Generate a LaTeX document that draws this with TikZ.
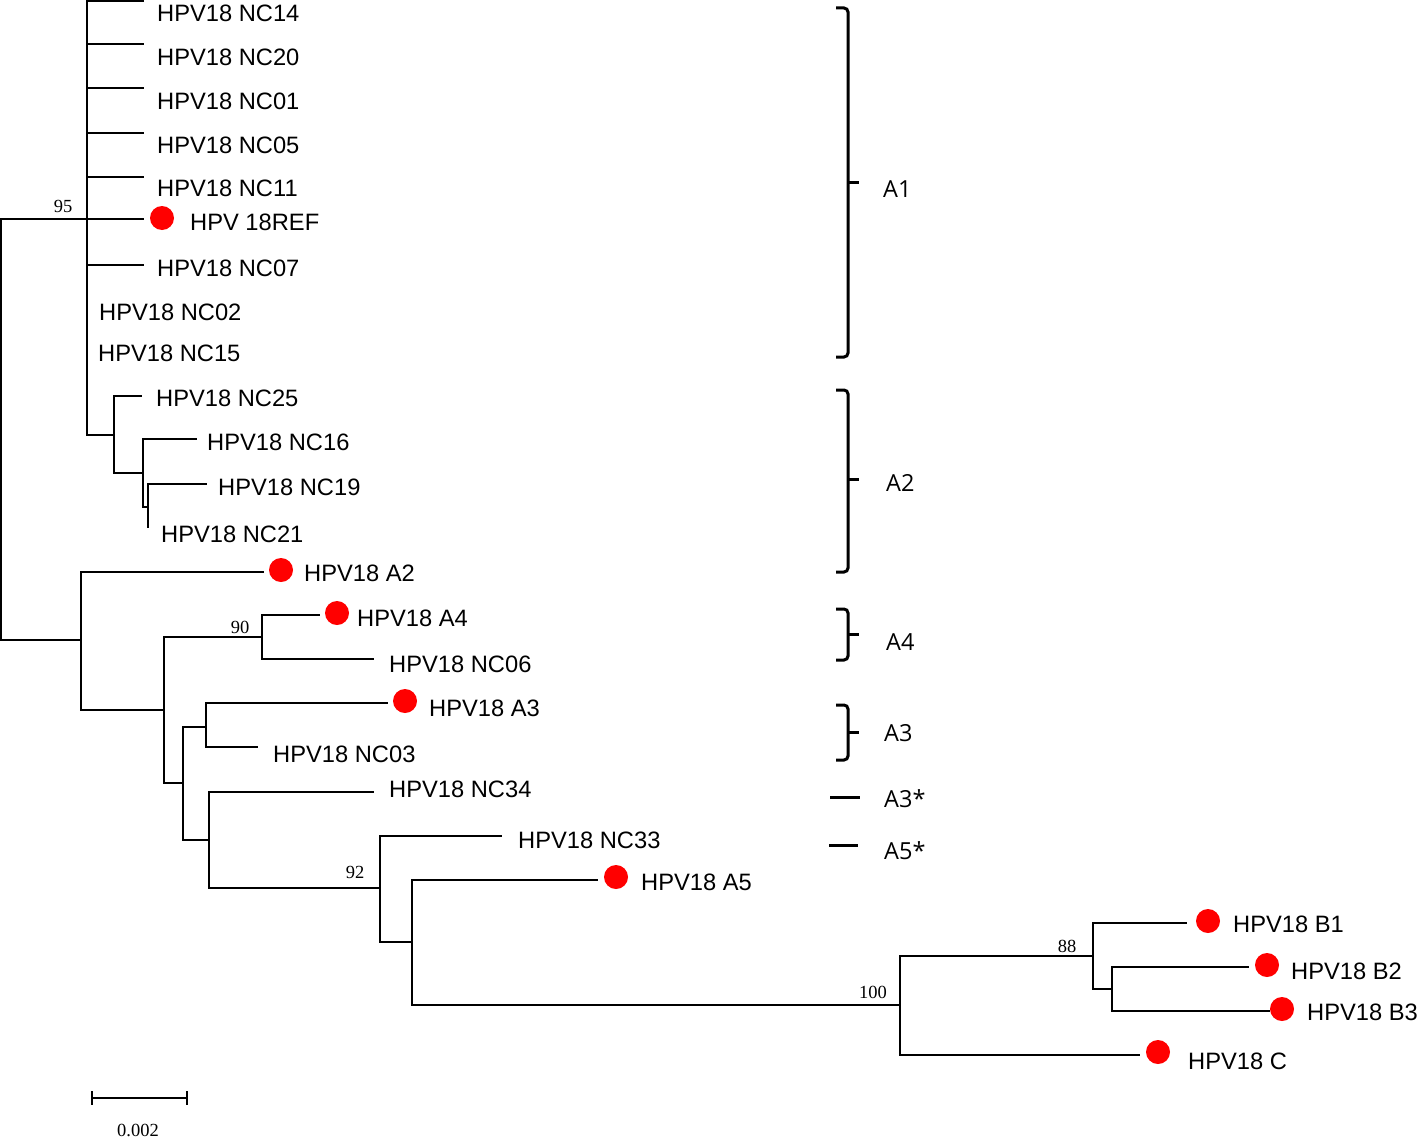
\documentclass[tikz,border=0pt]{standalone}
\usepackage{fontspec}
\newfontfamily\labfont{Liberation Sans}
\newfontfamily\numfont{Liberation Serif}
\newfontfamily\grpfont{Open Sans}
\tikzset{
  branch/.style={line width=2.3pt},
  leaf/.style={font=\labfont\fontsize{23.7}{28}\selectfont, anchor=west, inner sep=0pt},
  boot/.style={font=\numfont\fontsize{18.5}{20}\selectfont, inner sep=0pt},
  grp/.style={font=\grpfont\fontsize{23.5}{28}\selectfont, anchor=west, inner sep=0pt},
  brace/.style={line width=3pt, rounded corners=4pt},
  dot/.style={circle, fill=red, minimum size=24pt, inner sep=0pt},
}
\begin{document}
\begin{tikzpicture}[x=1pt,y=-1pt]
\useasboundingbox (0,0) rectangle (1418,1140);
% internal nodes
\coordinate (root) at (1.2,430);
\coordinate (cA) at (87,219);
\coordinate (cA2) at (114,435);
\coordinate (cB) at (143,473);
\coordinate (cC) at (148,507);
\coordinate (cR) at (81,640);
\coordinate (cD) at (164,710);
\coordinate (cE) at (262,637);
\coordinate (cF) at (183,783);
\coordinate (cG) at (206,727);
\coordinate (cH) at (209,840);
\coordinate (cI) at (380,888);
\coordinate (cJ) at (412,942);
\coordinate (cK) at (900,1005);
\coordinate (cL) at (1093,956);
\coordinate (cM) at (1112,989);
% leaf ends
\coordinate (eNC14) at (144,1.2);
\coordinate (eNC20) at (144,44);
\coordinate (eNC01) at (144,88);
\coordinate (eNC05) at (144,133);
\coordinate (eNC11) at (144,177);
\coordinate (eREF) at (144,219);
\coordinate (eNC07) at (144,265);
\coordinate (eNC25) at (142,396);
\coordinate (eNC16) at (197,439);
\coordinate (eNC19) at (207,484);
\coordinate (eNC21) at (148,528);
\coordinate (eA2) at (264,572);
\coordinate (eA4) at (320,615);
\coordinate (eNC06) at (374,659);
\coordinate (eA3) at (388,703);
\coordinate (eNC03) at (258,747);
\coordinate (eNC34) at (374,792);
\coordinate (eNC33) at (502,836);
\coordinate (eA5) at (598,880);
\coordinate (eB1) at (1187,923);
\coordinate (eB2) at (1249,967);
\coordinate (eB3) at (1270,1011);
\coordinate (eC) at (1140,1055);
% branches
\draw[branch] (root) |- (cA);
\draw[branch] (root) |- (cR);
\foreach \e in {eNC14,eNC20,eNC01,eNC05,eNC11,eREF,eNC07,cA2}
  \draw[branch] (cA) |- (\e);
\draw[branch] (cA2) |- (eNC25);
\draw[branch] (cA2) |- (cB);
\draw[branch] (cB) |- (eNC16);
\draw[branch] (cB) |- (cC);
\draw[branch] (cC) |- (eNC19);
\draw[branch] (cC) |- (eNC21);
\draw[branch] (cR) |- (eA2);
\draw[branch] (cR) |- (cD);
\draw[branch] (cD) |- (cE);
\draw[branch] (cD) |- (cF);
\draw[branch] (cE) |- (eA4);
\draw[branch] (cE) |- (eNC06);
\draw[branch] (cF) |- (cG);
\draw[branch] (cF) |- (cH);
\draw[branch] (cG) |- (eA3);
\draw[branch] (cG) |- (eNC03);
\draw[branch] (cH) |- (eNC34);
\draw[branch] (cH) |- (cI);
\draw[branch] (cI) |- (eNC33);
\draw[branch] (cI) |- (cJ);
\draw[branch] (cJ) |- (eA5);
\draw[branch] (cJ) |- (cK);
\draw[branch] (cK) |- (cL);
\draw[branch] (cK) |- (eC);
\draw[branch] (cL) |- (eB1);
\draw[branch] (cL) |- (cM);
\draw[branch] (cM) |- (eB2);
\draw[branch] (cM) |- (eB3);
% dots
\node[dot] (dREF) at (162,218) {};
\node[dot] (dA2) at (281,570) {};
\node[dot] (dA4) at (337,613) {};
\node[dot] (dA3) at (405,701) {};
\node[dot] (dA5) at (616,877) {};
\node[dot] (dB1) at (1208,921) {};
\node[dot] (dB2) at (1267,965) {};
\node[dot] (dB3) at (1282,1009) {};
\node[dot] (dC) at (1158,1052) {};
% leaf labels
\node[leaf] (lNC14) at (157,13) {HPV18 NC14};
\node[leaf] (lNC20) at (157,57) {HPV18 NC20};
\node[leaf] (lNC01) at (157,101) {HPV18 NC01};
\node[leaf] (lNC05) at (157,145) {HPV18 NC05};
\node[leaf] (lNC11) at (157,188) {HPV18 NC11};
\node[leaf] (lREF) at (190,222) {HPV 18REF};
\node[leaf] (lNC07) at (157,268) {HPV18 NC07};
\node[leaf] (lNC02) at (99,312) {HPV18 NC02};
\node[leaf] (lNC15) at (98,353) {HPV18 NC15};
\node[leaf] (lNC25) at (156,398) {HPV18 NC25};
\node[leaf] (lNC16) at (207,442) {HPV18 NC16};
\node[leaf] (lNC19) at (218,487) {HPV18 NC19};
\node[leaf] (lNC21) at (161,534) {HPV18 NC21};
\node[leaf] (lA2) at (304,573) {HPV18 A2};
\node[leaf] (lA4) at (357,618) {HPV18 A4};
\node[leaf] (lNC06) at (389,664) {HPV18 NC06};
\node[leaf] (lA3) at (429,708) {HPV18 A3};
\node[leaf] (lNC03) at (273,754) {HPV18 NC03};
\node[leaf] (lNC34) at (389,789) {HPV18 NC34};
\node[leaf] (lNC33) at (518,840) {HPV18 NC33};
\node[leaf] (lA5) at (641,882) {HPV18 A5};
\node[leaf] (lB1) at (1233,924) {HPV18 B1};
\node[leaf] (lB2) at (1291,971) {HPV18 B2};
\node[leaf] (lB3) at (1307,1012) {HPV18 B3};
\node[leaf] (lC) at (1188,1061) {HPV18 C};
% bootstrap values
\node[boot] (b95) at (63,206) {95};
\node[boot] (b90) at (240,627) {90};
\node[boot] (b92) at (355,872) {92};
\node[boot] (b100) at (873,992) {100};
\node[boot] (b88) at (1067,946) {88};
% group brackets
\draw[brace] (836,8) -- (848,8) -- (848,357) -- (836,357);
\draw[brace] (848,182) -- (859,182);
\node[grp] (gA1) at (883,189) {A1};
\draw[brace] (836,390) -- (848,390) -- (848,572) -- (836,572);
\draw[brace] (848,479) -- (859,479);
\node[grp] (gA2) at (886,483) {A2};
\draw[brace] (836,609) -- (848,609) -- (848,660) -- (836,660);
\draw[brace] (848,634) -- (859,634);
\node[grp] (gA4) at (886,642) {A4};
\draw[brace] (836,705) -- (848,705) -- (848,760) -- (836,760);
\draw[brace] (848,732) -- (859,732);
\node[grp] (gA3) at (884,733) {A3};
\draw[brace] (830,797) -- (860,797);
\node[grp] (gA3s) at (884,799) {A3*};
\draw[brace] (829,845) -- (858,845);
\node[grp] (gA5s) at (884,851) {A5*};
% scale bar
\coordinate (sbL) at (92,1098);
\coordinate (sbR) at (187,1098);
\draw[line width=1.8pt] (sbL) -- (sbR);
\draw[line width=1.8pt] ([yshift=7pt]sbL) -- ([yshift=-7pt]sbL);
\draw[line width=1.8pt] ([yshift=7pt]sbR) -- ([yshift=-7pt]sbR);
\node[boot] (sbt) at (138,1130) {0.002};
\end{tikzpicture}
\end{document}
